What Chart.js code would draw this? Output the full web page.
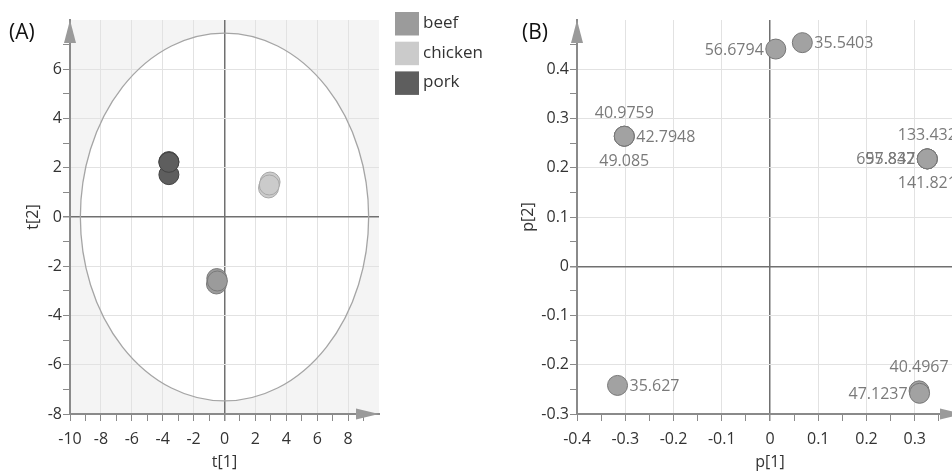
<!DOCTYPE html>
<html>
<head>
<meta charset="utf-8">
<script src="https://cdn.jsdelivr.net/npm/chart.js@4.4.1/dist/chart.umd.min.js"></script>
<style>
  html, body { margin: 0; padding: 0; background: #fff; overflow: hidden; }
  #wrap { position: relative; width: 952px; height: 472px; overflow: hidden; }
  #boxA { position: absolute; left: 0; top: 0; }
  #boxB { position: absolute; left: 480px; top: 0; }
</style>
</head>
<body>
<div id="wrap">
  <div id="boxA"><canvas id="scoreChart" width="500" height="472"></canvas></div>
  <div id="boxB"><canvas id="loadingChart" width="520" height="472"></canvas></div>
</div>
<script>
// (A) score plot, three meat groups
const groups = ['beef', 'chicken', 'pork'];
const groupFill = ['#9b9b9b', '#cbcbcb', '#5e5e5e'];
const groupEdge = ['#7a7a7a', '#a8a8a8', '#444444'];
const beefT1 = [-0.5, -0.52, -0.46];
const beefT2 = [-2.5, -2.72, -2.6];
const chickenT1 = [2.95, 2.85, 2.9];
const chickenT2 = [1.42, 1.18, 1.3];
const porkT1 = [-3.6, -3.6, -3.6];
const porkT2 = [2.25, 1.72, 2.22];
const ellipseAxes = [9.33, 7.47]; // Hotelling T2 ellipse half-widths in t[1], t[2]

// (B) loading plot
const loadP1 = [0.012, 0.067, -0.302, -0.302, -0.302, 0.326, 0.326, 0.326, 0.326, -0.316, 0.309, 0.31];
const loadP2 = [0.441, 0.454, 0.264, 0.264, 0.264, 0.218, 0.218, 0.218, 0.218, -0.242, -0.253, -0.258];
const loadNames = ['56.6794', '35.5403', '40.9759', '42.7948', '49.085', '133.432', '695.847', '57.832', '141.821', '35.627', '40.4967', '47.1237'];
const loadSide = ['left', 'right', 'above', 'right', 'below', 'above', 'left', 'left', 'below', 'right', 'above', 'left'];

Chart.defaults.font.family = '"Open Sans", sans-serif';
Chart.defaults.font.size = 16;
Chart.defaults.color = '#333';

function pts(xs, ys) {
  return xs.map((x, i) => ({ x: x, y: ys[i] }));
}

function arrows(chart) {
  const ctx = chart.ctx;
  const a = chart.chartArea;
  ctx.save();
  ctx.fillStyle = '#9a9a9a';
  ctx.beginPath();
  ctx.moveTo(a.left, a.top);
  ctx.lineTo(a.left - 6, a.top + 23);
  ctx.lineTo(a.left + 6, a.top + 23);
  ctx.closePath();
  ctx.fill();
  ctx.beginPath();
  ctx.moveTo(a.right, a.bottom);
  ctx.lineTo(a.right - 23, a.bottom - 5.5);
  ctx.lineTo(a.right - 23, a.bottom + 5.5);
  ctx.closePath();
  ctx.fill();
  ctx.restore();
}

function panelTag(chart, text, x) {
  const ctx = chart.ctx;
  ctx.save();
  ctx.font = '21px "Open Sans", sans-serif';
  ctx.fillStyle = '#111';
  ctx.textBaseline = 'middle';
  ctx.fillText(text, x, 33);
  ctx.restore();
}

function axisOpts(min, max, step, every, title, titlePad, size, labelPad) {
  const isMajor = v => Math.abs(Math.round(v / step) % every) === 0;
  return {
    type: 'linear',
    min: min,
    max: max,
    afterFit: s => { if (s.isHorizontal()) s.height = size; else s.width = size; },
    ticks: {
      stepSize: step,
      autoSkip: false,
      maxRotation: 0,
      padding: labelPad,
      color: '#333',
      font: { size: 16 },
      callback: v => {
        if (Math.abs(v - max) < step / 2 || !isMajor(v)) return '';
        return String(Math.round(v * 1000) / 1000);
      }
    },
    grid: {
      color: c => {
        const v = c.tick.value;
        if (Math.abs(v - max) < step / 2) return 'rgba(0,0,0,0)';
        if (Math.abs(v) < step / 2) return '#707070';
        return isMajor(v) ? '#e2e2e2' : 'rgba(0,0,0,0)';
      },
      lineWidth: c => Math.abs(c.tick.value) < step / 2 ? 1.5 : 1,
      tickColor: c => Math.abs(c.tick.value - max) < step / 2 ? 'rgba(0,0,0,0)' : '#8a8a8a',
      tickLength: 7
    },
    border: { display: true, color: '#8a8a8a', width: 2 },
    title: { display: true, text: title, color: '#333', font: { size: 16 }, padding: titlePad }
  };
}

const scorePlugin = {
  id: 'scoreDecor',
  beforeDraw(chart) {
    const ctx = chart.ctx;
    const a = chart.chartArea;
    const x = chart.scales.x, y = chart.scales.y;
    ctx.save();
    ctx.fillStyle = '#f4f4f4';
    ctx.fillRect(a.left, a.top, a.right - a.left, a.bottom - a.top);
    const cx = x.getPixelForValue(0), cy = y.getPixelForValue(0);
    ctx.beginPath();
    ctx.ellipse(cx, cy, x.getPixelForValue(ellipseAxes[0]) - cx, cy - y.getPixelForValue(ellipseAxes[1]), 0, 0, Math.PI * 2);
    ctx.fillStyle = '#ffffff';
    ctx.fill();
    ctx.restore();
  },
  beforeDatasetsDraw(chart) {
    const ctx = chart.ctx;
    const x = chart.scales.x, y = chart.scales.y;
    const cx = x.getPixelForValue(0), cy = y.getPixelForValue(0);
    ctx.save();
    ctx.beginPath();
    ctx.ellipse(cx, cy, x.getPixelForValue(ellipseAxes[0]) - cx, cy - y.getPixelForValue(ellipseAxes[1]), 0, 0, Math.PI * 2);
    ctx.strokeStyle = '#a5a5a5';
    ctx.lineWidth = 1.3;
    ctx.stroke();
    ctx.restore();
  },
  afterDraw(chart) {
    arrows(chart);
    panelTag(chart, '(A)', 9);
    // legend
    const ctx = chart.ctx;
    ctx.save();
    ctx.font = '17px "Open Sans", sans-serif';
    ctx.textBaseline = 'middle';
    chart.data.datasets.forEach((ds, i) => {
      const top = 12 + i * 29.7;
      ctx.fillStyle = ds.backgroundColor;
      ctx.fillRect(395, top, 24, 23.5);
      ctx.fillStyle = '#333';
      ctx.fillText(ds.label, 423, top + 11);
    });
    ctx.restore();
  }
};

new Chart(document.getElementById('scoreChart'), {
  type: 'scatter',
  data: {
    datasets: [
      { label: groups[0], data: pts(beefT1, beefT2) },
      { label: groups[1], data: pts(chickenT1, chickenT2) },
      { label: groups[2], data: pts(porkT1, porkT2) }
    ].map((d, i) => Object.assign(d, {
      backgroundColor: groupFill[i],
      borderColor: groupEdge[i],
      borderWidth: 1,
      pointRadius: 10,
      pointHoverRadius: 10
    }))
  },
  options: {
    responsive: false,
    animation: false,
    layout: { padding: { left: 0, right: 121, top: 20, bottom: 0 } },
    plugins: { legend: { display: false }, tooltip: { enabled: false } },
    scales: {
      x: axisOpts(-10, 10, 1, 2, 't[1]', { top: 0, bottom: 0 }, 58, 9),
      y: axisOpts(-8, 8, 1, 2, 't[2]', { top: 24, bottom: 0 }, 70, 1)
    }
  },
  plugins: [scorePlugin]
});

const loadingPlugin = {
  id: 'loadingDecor',
  afterDraw(chart) {
    arrows(chart);
    panelTag(chart, '(B)', 42);
    const ctx = chart.ctx;
    const meta = chart.getDatasetMeta(0);
    ctx.save();
    ctx.font = '16px "Open Sans", sans-serif';
    ctx.fillStyle = '#7a7a7a';
    ctx.textBaseline = 'middle';
    meta.data.forEach((pt, i) => {
      const side = loadSide[i];
      const name = loadNames[i];
      if (side === 'left') {
        ctx.textAlign = 'right';
        ctx.fillText(name, pt.x - 12, pt.y + 1);
      } else if (side === 'right') {
        ctx.textAlign = 'left';
        ctx.fillText(name, pt.x + 12, pt.y + 1);
      } else if (side === 'above') {
        ctx.textAlign = 'center';
        ctx.fillText(name, pt.x, pt.y - 23);
      } else {
        ctx.textAlign = 'center';
        ctx.fillText(name, pt.x, pt.y + 25);
      }
    });
    ctx.restore();
  }
};

new Chart(document.getElementById('loadingChart'), {
  type: 'scatter',
  data: {
    datasets: [{
      label: 'loadings',
      data: pts(loadP1, loadP2),
      backgroundColor: '#a2a2a2',
      borderColor: '#767676',
      borderWidth: 1,
      pointRadius: 10,
      pointHoverRadius: 10
    }]
  },
  options: {
    responsive: false,
    animation: false,
    layout: { padding: { left: 0, right: 37, top: 20, bottom: 0 } },
    plugins: { legend: { display: false }, tooltip: { enabled: false } },
    scales: {
      x: axisOpts(-0.4, 0.4, 0.05, 2, 'p[1]', { top: 0, bottom: 0 }, 58, 9),
      y: axisOpts(-0.3, 0.5, 0.05, 2, 'p[2]', { top: 39, bottom: 0 }, 97, 1)
    }
  },
  plugins: [loadingPlugin]
});
</script>
</body>
</html>
